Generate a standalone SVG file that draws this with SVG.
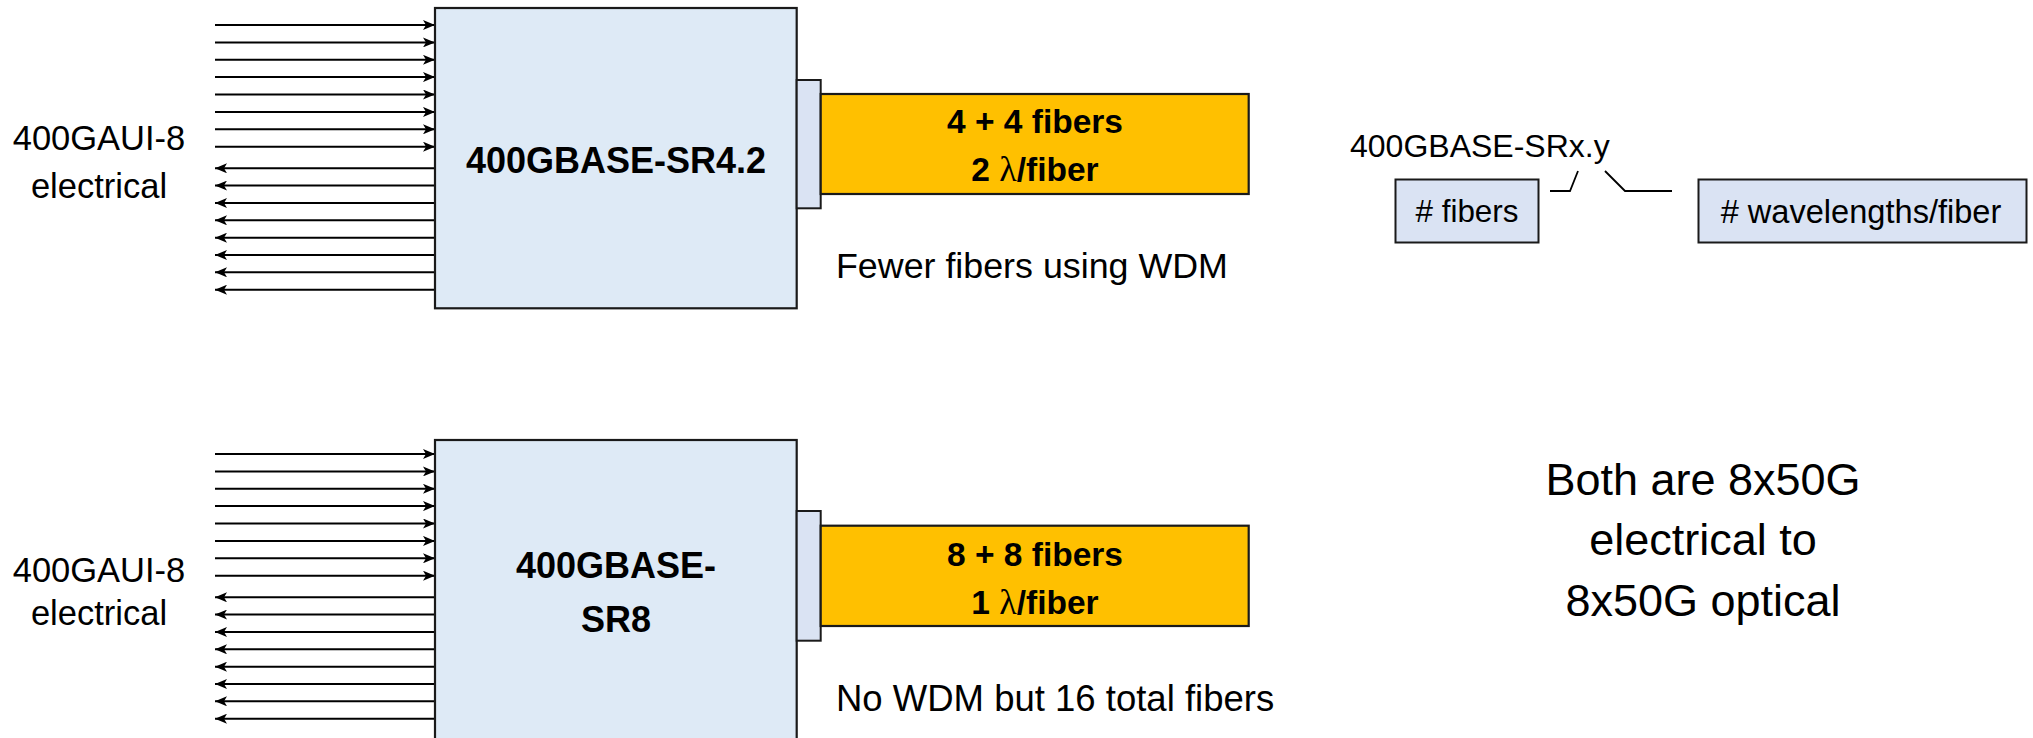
<svg xmlns="http://www.w3.org/2000/svg" width="2033" height="738" viewBox="0 0 2033 738">
<style>
.bg{fill:#ffffff}
.box{fill:#DEEAF6;stroke:#1a1a1a;stroke-width:2.2}
.conn{fill:#DAE3F3;stroke:#1a1a1a;stroke-width:2}
.fiber{fill:#FFC000;stroke:#1a1a1a;stroke-width:2.2}
.lbl{fill:#DAE3F3;stroke:#1a1a1a;stroke-width:2}
.t{font-family:"Liberation Sans",Arial,sans-serif;fill:#000}
.b{font-weight:bold}
.lam{font-family:"Liberation Serif","Times New Roman",serif;font-weight:normal}
.w{stroke:#000;stroke-width:2;fill:none}
.br{stroke:#000;stroke-width:1.8;fill:none}
</style>
<defs>
<marker id="ah" viewBox="0 0 12 10" refX="12" refY="5" markerWidth="12" markerHeight="10" markerUnits="userSpaceOnUse" orient="auto">
<path d="M0,0 L12,5 L0,10 L3,5 z" fill="#000"/>
</marker>
</defs>
<rect class="bg" x="0" y="0" width="2033" height="738"/>

<g id="connectors">
<g id="top-in">
<line class="w" x1="215" y1="25" x2="435" y2="25" marker-end="url(#ah)"/>
<line class="w" x1="215" y1="42.4" x2="435" y2="42.4" marker-end="url(#ah)"/>
<line class="w" x1="215" y1="59.8" x2="435" y2="59.8" marker-end="url(#ah)"/>
<line class="w" x1="215" y1="77.1" x2="435" y2="77.1" marker-end="url(#ah)"/>
<line class="w" x1="215" y1="94.5" x2="435" y2="94.5" marker-end="url(#ah)"/>
<line class="w" x1="215" y1="111.9" x2="435" y2="111.9" marker-end="url(#ah)"/>
<line class="w" x1="215" y1="129.3" x2="435" y2="129.3" marker-end="url(#ah)"/>
<line class="w" x1="215" y1="146.7" x2="435" y2="146.7" marker-end="url(#ah)"/>
</g>
<g id="top-out">
<line class="w" x1="435" y1="168.3" x2="215" y2="168.3" marker-end="url(#ah)"/>
<line class="w" x1="435" y1="185.6" x2="215" y2="185.6" marker-end="url(#ah)"/>
<line class="w" x1="435" y1="203" x2="215" y2="203" marker-end="url(#ah)"/>
<line class="w" x1="435" y1="220.3" x2="215" y2="220.3" marker-end="url(#ah)"/>
<line class="w" x1="435" y1="237.7" x2="215" y2="237.7" marker-end="url(#ah)"/>
<line class="w" x1="435" y1="255" x2="215" y2="255" marker-end="url(#ah)"/>
<line class="w" x1="435" y1="272.3" x2="215" y2="272.3" marker-end="url(#ah)"/>
<line class="w" x1="435" y1="289.7" x2="215" y2="289.7" marker-end="url(#ah)"/>
</g>
<g id="bot-in">
<line class="w" x1="215" y1="454" x2="435" y2="454" marker-end="url(#ah)"/>
<line class="w" x1="215" y1="471.4" x2="435" y2="471.4" marker-end="url(#ah)"/>
<line class="w" x1="215" y1="488.8" x2="435" y2="488.8" marker-end="url(#ah)"/>
<line class="w" x1="215" y1="506.1" x2="435" y2="506.1" marker-end="url(#ah)"/>
<line class="w" x1="215" y1="523.5" x2="435" y2="523.5" marker-end="url(#ah)"/>
<line class="w" x1="215" y1="540.9" x2="435" y2="540.9" marker-end="url(#ah)"/>
<line class="w" x1="215" y1="558.3" x2="435" y2="558.3" marker-end="url(#ah)"/>
<line class="w" x1="215" y1="575.7" x2="435" y2="575.7" marker-end="url(#ah)"/>
</g>
<g id="bot-out">
<line class="w" x1="435" y1="597.3" x2="215" y2="597.3" marker-end="url(#ah)"/>
<line class="w" x1="435" y1="614.6" x2="215" y2="614.6" marker-end="url(#ah)"/>
<line class="w" x1="435" y1="632" x2="215" y2="632" marker-end="url(#ah)"/>
<line class="w" x1="435" y1="649.3" x2="215" y2="649.3" marker-end="url(#ah)"/>
<line class="w" x1="435" y1="666.7" x2="215" y2="666.7" marker-end="url(#ah)"/>
<line class="w" x1="435" y1="684" x2="215" y2="684" marker-end="url(#ah)"/>
<line class="w" x1="435" y1="701.3" x2="215" y2="701.3" marker-end="url(#ah)"/>
<line class="w" x1="435" y1="718.7" x2="215" y2="718.7" marker-end="url(#ah)"/>
</g>
<path class="br" d="M1550,191 L1570,191 L1578,171"/>
<path class="br" d="M1605,171 L1625,191 L1672,191"/>
</g>

<g id="label-top">
<text class="t" x="99" y="150" font-size="34.5" text-anchor="middle">400GAUI-8</text>
<text class="t" x="99" y="198" font-size="34.5" text-anchor="middle">electrical</text>
</g>
<g id="label-bottom">
<text class="t" x="99" y="581.7" font-size="34.5" text-anchor="middle">400GAUI-8</text>
<text class="t" x="99" y="625" font-size="34.5" text-anchor="middle">electrical</text>
</g>

<g id="sr42">
<rect class="box" x="435" y="8" width="361.7" height="300.3"/>
<text class="t b" x="616" y="173" font-size="36" text-anchor="middle">400GBASE-SR4.2</text>
</g>
<g id="sr42-connector">
<rect class="conn" x="796.7" y="80" width="24" height="128.3"/>
</g>
<g id="sr42-fiber">
<rect class="fiber" x="820.7" y="94" width="428" height="100"/>
<text class="t b" x="1035" y="133" font-size="33.5" text-anchor="middle">4 + 4 fibers</text>
<text class="t b" x="1035" y="180.7" font-size="33.5" text-anchor="middle">2 <tspan class="lam" font-size="36">λ</tspan>/fiber</text>
</g>
<g id="note-top">
<text class="t" x="836" y="278" font-size="35.8">Fewer fibers using WDM</text>
</g>

<g id="sr8">
<rect class="box" x="435" y="440" width="361.7" height="302"/>
<text class="t b" x="616" y="578.3" font-size="36" text-anchor="middle">400GBASE-</text>
<text class="t b" x="616" y="631.7" font-size="36" text-anchor="middle">SR8</text>
</g>
<g id="sr8-connector">
<rect class="conn" x="796.7" y="511" width="24" height="129.7"/>
</g>
<g id="sr8-fiber">
<rect class="fiber" x="820.7" y="525.7" width="428" height="100.3"/>
<text class="t b" x="1035" y="566" font-size="33.5" text-anchor="middle">8 + 8 fibers</text>
<text class="t b" x="1035" y="614" font-size="33.5" text-anchor="middle">1 <tspan class="lam" font-size="36">λ</tspan>/fiber</text>
</g>
<g id="note-bottom">
<text class="t" x="836" y="710.5" font-size="36.5">No WDM but 16 total fibers</text>
</g>

<g id="naming">
<text class="t" x="1350" y="156.7" font-size="32">400GBASE-SRx.y</text>
</g>
<g id="fibers-box">
<rect class="lbl" x="1395.5" y="179.5" width="143" height="63"/>
<text class="t" x="1467" y="221.7" font-size="31.4" text-anchor="middle"># fibers</text>
</g>
<g id="wavelengths-box">
<rect class="lbl" x="1698.5" y="179.5" width="328" height="63"/>
<text class="t" x="1861" y="222.7" font-size="32.6" text-anchor="middle"># wavelengths/fiber</text>
</g>

<g id="summary">
<text class="t" x="1703" y="495" font-size="45" text-anchor="middle">Both are 8x50G</text>
<text class="t" x="1703" y="555" font-size="45" text-anchor="middle">electrical to</text>
<text class="t" x="1703" y="616" font-size="45" text-anchor="middle">8x50G optical</text>
</g>
</svg>
